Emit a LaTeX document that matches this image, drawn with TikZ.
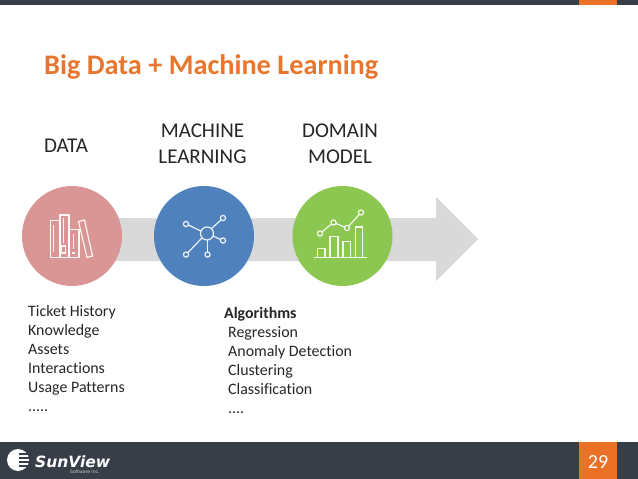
\documentclass[tikz,border=0pt]{standalone}
\usepackage{fontspec}
\setmainfont[Ligatures=NoCommon]{Carlito}
\newfontfamily\logofont{DejaVu Sans}
\definecolor{barc}{HTML}{373E47}
\definecolor{orangec}{HTML}{EA7125}
\definecolor{titlec}{HTML}{E8762D}
\definecolor{redc}{HTML}{D99694}
\definecolor{bluec}{HTML}{4F81BD}
\definecolor{greenc}{HTML}{8CC751}
\definecolor{arrowc}{HTML}{D9D9D9}
\definecolor{textc}{HTML}{262626}
\tikzset{
  heading/.style={font=\fontsize{21}{26}\selectfont,text=textc,align=center,inner sep=0pt},
  listing/.style={font=\fontsize{15.9}{19}\selectfont,text=textc,align=left,anchor=north west,inner sep=0pt},
  disc/.style={circle,minimum size=100pt,inner sep=0pt,draw=none},
  ico/.style={draw=white,line width=1.2pt,opacity=0.9,line join=miter},
}
\begin{document}
\begin{tikzpicture}[x=1pt,y=-1pt]
\useasboundingbox (0,0) rectangle (638,479);
\fill[white] (0,0) rectangle (638,479);
% bars
\fill[barc] (0,0) rectangle (638,5);
\fill[orangec] (579,0) rectangle (617,5);
\fill[barc] (0,442) rectangle (638,479);
\fill[orangec] (579,442) rectangle (617,479);
\node[inner sep=0pt,text=white,font=\fontsize{20}{22}\selectfont] (page) at (598,462) {29};
% title
\node[anchor=base west,inner sep=0pt,text=titlec,font=\bfseries\fontsize{28.3}{30}\selectfont] (title) at (44,74) {Big Data + Machine Learning};
% headings
\node[heading] (hdata) at (66,146) {DATA};
\node[heading] (hml) at (202.5,144) {MACHINE\\LEARNING};
\node[heading] (hdm) at (340,144) {DOMAIN\\MODEL};
% arrow
\fill[arrowc] (72,218) -- (436,218) -- (436,197) -- (478,239) -- (436,281) -- (436,261) -- (72,261) -- cycle;
% discs
\node[disc,fill=redc] (d1) at (72,236) {};
\node[disc,fill=bluec] (d2) at (204,236) {};
\node[disc,fill=greenc] (d3) at (342.5,236) {};
% books icon
\begin{scope}[ico]
\draw (60,215) rectangle (69,257.5);
\draw (50.5,220.5) rectangle (60,257.5);
\draw (53.5,225) -- (53.5,252);
\draw (63.5,218) -- (63.5,243);
\draw (69,229.5) rectangle (79,257.5);
\draw (73.5,234) -- (73.5,249);
\draw (72,253) -- (75,253);
\draw (61,246) rectangle (65.5,253);
\draw (78.5,221.5) -- (84.5,220) -- (92.5,256) -- (87,257.5) -- cycle;
\end{scope}
% network icon
\begin{scope}[ico]
\draw (207,233.5) circle (6.5);
\draw (186,224) circle (2.6);
\draw (223,218) circle (2.6);
\draw (223,240.5) circle (2.6);
\draw (186,254.5) circle (2.6);
\draw (207.5,254.5) circle (2.6);
\draw (188.4,225) -- (200.8,231);
\draw (221,220) -- (211.5,228.5);
\draw (220.5,239.5) -- (213,236);
\draw (188,252.5) -- (202,238);
\draw (207.5,252) -- (207.5,240);
\end{scope}
% chart icon
\begin{scope}[ico]
\draw (313.5,257.5) -- (366.5,257.5);
\draw (317.5,257.5) -- (317.5,248.5) -- (325,248.5) -- (325,257.5);
\draw (330,257.5) -- (330,236.5) -- (338,236.5) -- (338,257.5);
\draw (343,257.5) -- (343,241.5) -- (350.5,241.5) -- (350.5,257.5);
\draw (355.5,257.5) -- (355.5,227) -- (362.5,227) -- (362.5,257.5);
\draw (320,233.5) circle (2.6);
\draw (333.5,222.5) circle (2.6);
\draw (347,228) circle (2.6);
\draw (361,212.5) circle (2.6);
\draw (322,232) -- (331.5,224);
\draw (336,223.5) -- (344.5,227);
\draw (348.8,226) -- (359.2,214.5);
\end{scope}
% lists
\node[listing] (l1) at (28,305) {Ticket History\\Knowledge\\Assets\\Interactions\\Usage Patterns\\.....};
\node[listing,font=\bfseries\fontsize{15.9}{19}\selectfont] (algo) at (224,307) {Algorithms};
\node[listing] (l2) at (228,326.5) {Regression\\Anomaly Detection\\Clustering\\Classification\\....};
% logo
\fill[white] (18,460) circle (11);
\foreach \yy in {453,457,461,465}{\fill[barc] (19,\yy) rectangle (30,\yy+1.8);}
\node[anchor=base west,inner sep=0pt,text=white,font=\logofont\bfseries\itshape\fontsize{15.5}{18}\selectfont] (logo) at (35,467) {SunView};
\node[anchor=base west,inner sep=0pt,text=white!75!barc,font=\logofont\fontsize{4.5}{6}\selectfont] (logosub) at (70,473.5) {Software Inc.};
\end{tikzpicture}
\end{document}
